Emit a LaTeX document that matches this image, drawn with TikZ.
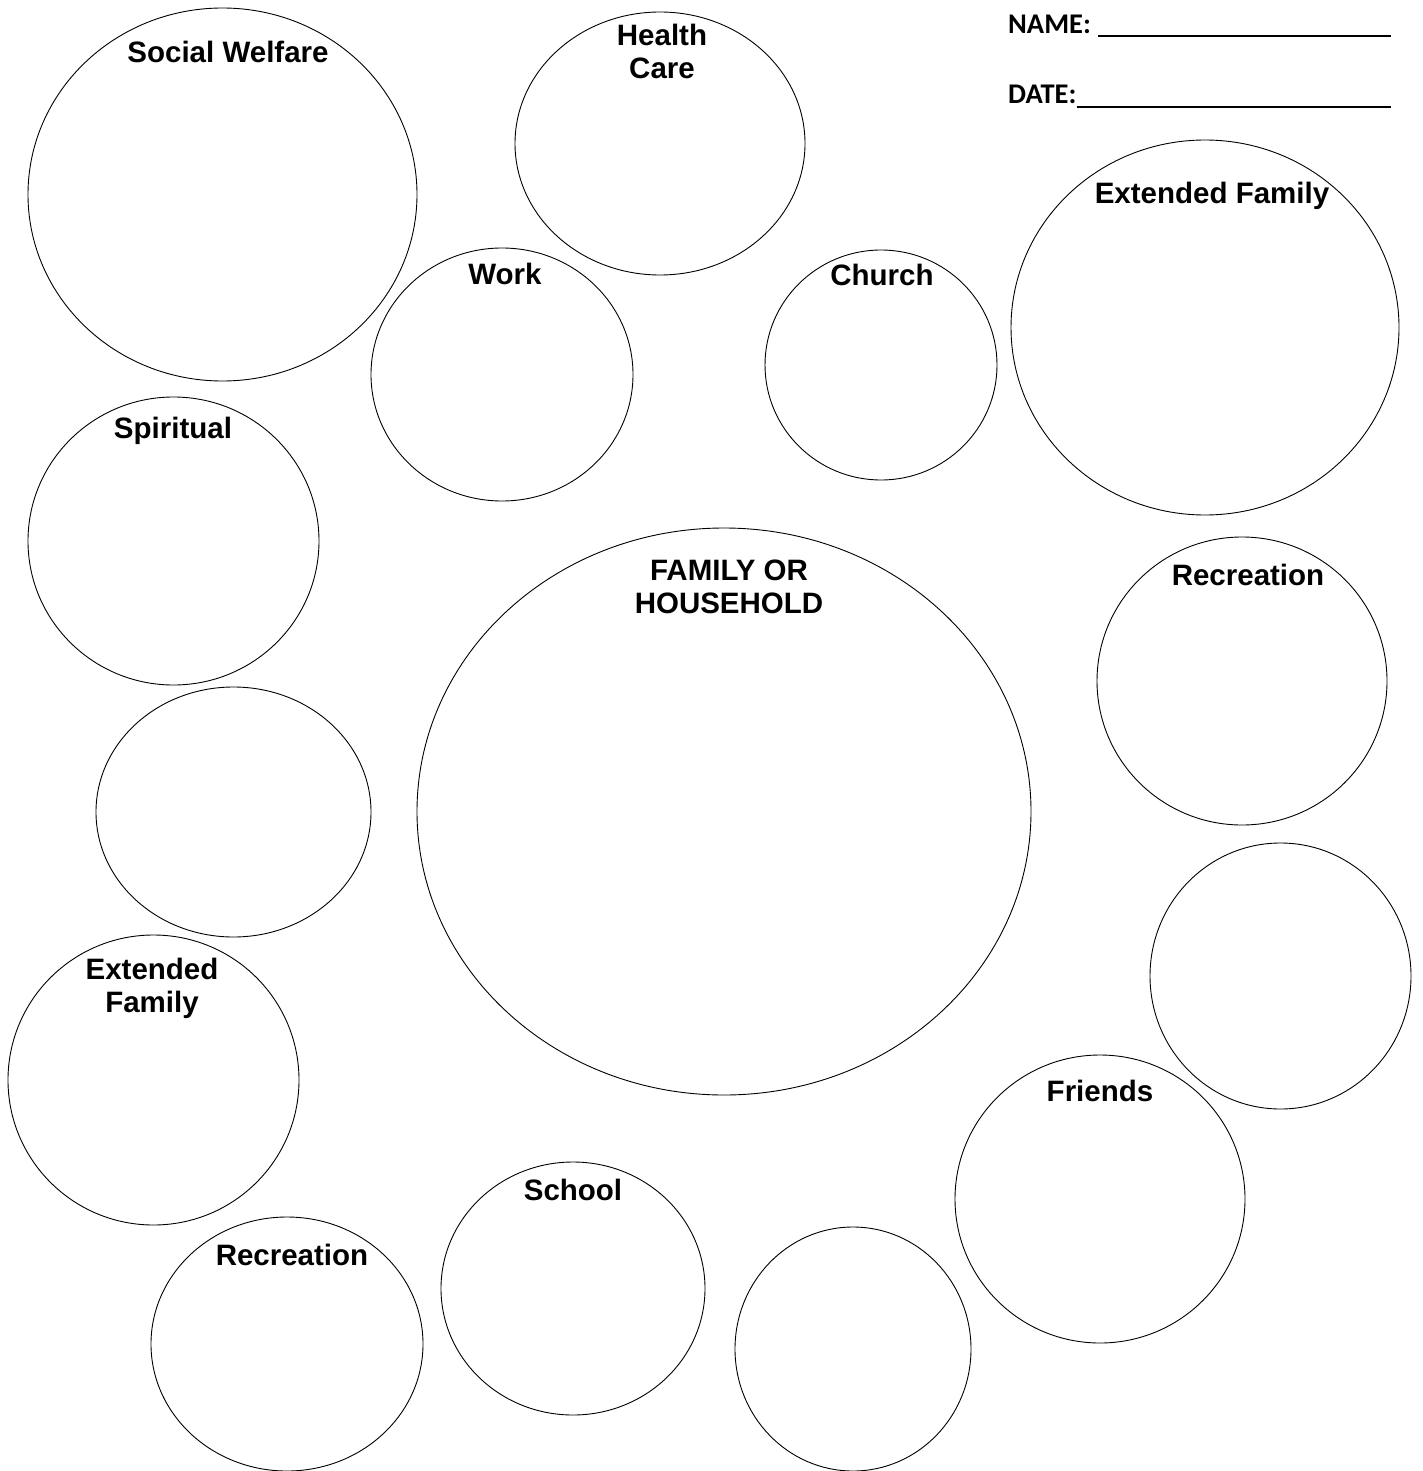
\documentclass[tikz,border=0pt]{standalone}
\usepackage{fontspec}
\setmainfont{Liberation Sans}
\newfontfamily\formfont{Carlito}
\usepackage{tikz}
\usetikzlibrary{calc}

\tikzset{
    lbl/.style={font=\bfseries\fontsize{29.5}{33}\selectfont, align=center, inner sep=0pt},
    formlbl/.style={font=\formfont\bfseries\fontsize{28.5}{30}\selectfont, anchor=west, inner sep=0pt},
    ring/.style={draw, line width=0.9pt}
}

\begin{document}
\begin{tikzpicture}[x=1pt,y=-1pt]
                \useasboundingbox (0,0) rectangle (1422,1471);
                % circles
                \draw [ring] (222.5,194.5) ellipse [x radius=194.5, y radius=186.5];
                \draw [ring] (660,143.5) ellipse [x radius=145, y radius=131.5];
                \draw [ring] (502,374.5) ellipse [x radius=131, y radius=126.5];
                \draw [ring] (881,365) ellipse [x radius=116, y radius=115];
                \draw [ring] (1205,327.5) ellipse [x radius=194, y radius=187.5];
                \draw [ring] (173.5,541) ellipse [x radius=145.5, y radius=144];
                \draw [ring] (233.5,812) ellipse [x radius=137.5, y radius=125];
                \draw [ring] (724,811.5) ellipse [x radius=307, y radius=283.5];
                \draw [ring] (1242,681) ellipse [x radius=145, y radius=144];
                \draw [ring] (1280.5,976) ellipse [x radius=130.5, y radius=133];
                \draw [ring] (153.5,1080) ellipse [x radius=145.5, y radius=145];
                \draw [ring] (1100,1199) ellipse [x radius=145, y radius=144];
                \draw [ring] (573,1288.5) ellipse [x radius=132, y radius=126.5];
                \draw [ring] (287,1344) ellipse [x radius=136, y radius=127];
                \draw [ring] (853,1349) ellipse [x radius=118, y radius=122];
                % labels
                \node [lbl] (welfare) at (228,52) {Social Welfare};
                \node [lbl] (health) at (662,51) {Health\\Care};
                \node [lbl] (work) at (505,274) {Work};
                \node [lbl] (church) at (882,275) {Church};
                \node [lbl] (extfamtop) at (1212,196) {Extended Family};
                \node [lbl] (spiritual) at (173,431) {Spiritual};
                \node [lbl] (household) at (729,587) {FAMILY OR\\HOUSEHOLD};
                \node [lbl] (recright) at (1248,575) {Recreation};
                \node [lbl] (extfamleft) at (152,988) {Extended\\Family};
                \node [lbl] (friends) at (1100,1091) {Friends};
                \node [lbl] (school) at (573,1190) {School};
                \node [lbl] (recleft) at (292,1255) {Recreation};
                % name and date
                \node [formlbl] (name) at (1008,24) {NAME:};
                \node [formlbl] (date) at (1008,94) {DATE:};
                \coordinate (nameend) at (1391,36);
                \coordinate (dateend) at (1391,107);
                \draw [line width=2.2pt] (name.east |- nameend) ++(7,0) -- (nameend);
                \draw [line width=2.2pt] (date.east |- dateend) -- (dateend);
            \end{tikzpicture}
\end{document}
